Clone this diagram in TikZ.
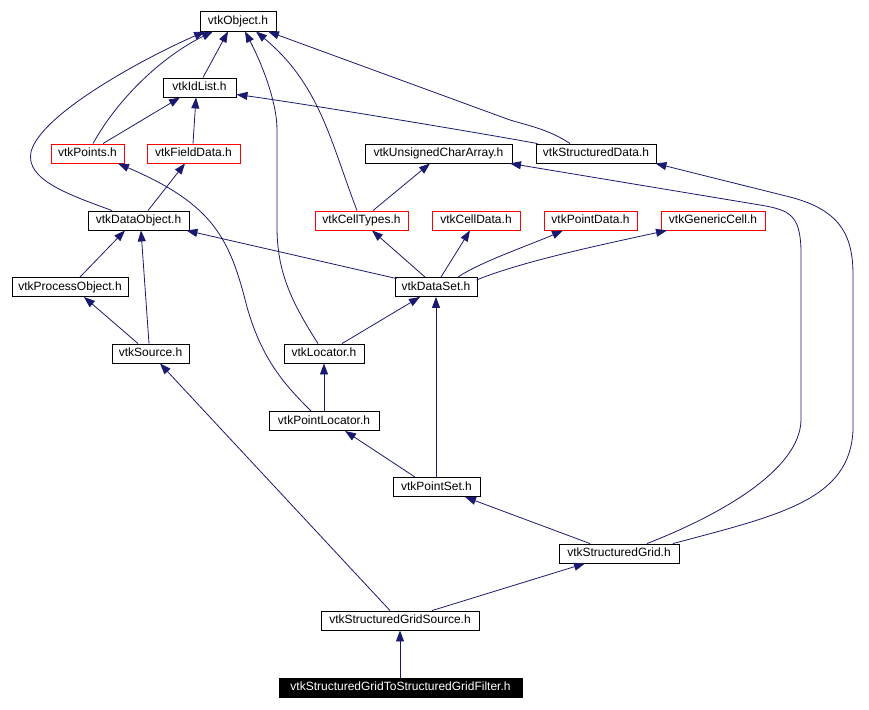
\documentclass[tikz,border=0pt]{standalone}
\usepackage{fontspec}
\setmainfont{Liberation Sans}
\usetikzlibrary{arrows.meta}
\definecolor{edgecol}{RGB}{25,25,112}
\definecolor{redcol}{RGB}{255,0,0}
\begin{document}
\begin{tikzpicture}[x=1pt,y=-1pt,
  box/.style={draw=black,line width=0.9pt,rectangle,inner sep=0pt,minimum height=19pt,text height=8.6pt,text depth=2.4pt,font=\fontsize{12}{13}\selectfont,text=black},
  redbox/.style={box,draw=redcol},
  blackbox/.style={box,fill=black,text=white},
  edge/.style={draw=edgecol,line width=0.8pt,-{Triangle[length=11pt,width=8pt]}}]
\useasboundingbox (0,0) rectangle (869,709);
% nodes
\node[box,minimum width=76pt,minimum height=20pt] (obj) at (238,21) {vtkObject.h};
\node[box,minimum width=73pt] (idl) at (199.5,87.5) {vtkIdList.h};
\node[redbox,minimum width=73pt] (pts) at (87.5,153.5) {vtkPoints.h};
\node[redbox,minimum width=93pt] (fld) at (193.5,153.5) {vtkFieldData.h};
\node[box,minimum width=147pt] (uca) at (438.5,153.5) {vtkUnsignedCharArray.h};
\node[box,minimum width=120pt] (sd) at (596,153.5) {vtkStructuredData.h};
\node[box,minimum width=101pt] (dobj) at (138.5,220.5) {vtkDataObject.h};
\node[redbox,minimum width=93pt] (ct) at (361.5,220.5) {vtkCellTypes.h};
\node[redbox,minimum width=88pt] (cd) at (476,220.5) {vtkCellData.h};
\node[redbox,minimum width=93pt] (pd) at (590.5,220.5) {vtkPointData.h};
\node[redbox,minimum width=104pt] (gc) at (713,220.5) {vtkGenericCell.h};
\node[box,minimum width=116pt] (po) at (70,287) {vtkProcessObject.h};
\node[box,minimum width=82pt] (ds) at (436,287) {vtkDataSet.h};
\node[box,minimum width=77pt] (src) at (150.5,353.5) {vtkSource.h};
\node[box,minimum width=80pt] (loc) at (324,353.5) {vtkLocator.h};
\node[box,minimum width=110pt] (pl) at (324,421) {vtkPointLocator.h};
\node[box,minimum width=87pt] (ps) at (436.5,487) {vtkPointSet.h};
\node[box,minimum width=120pt] (sg) at (619,553.5) {vtkStructuredGrid.h};
\node[box,minimum width=158pt] (sgs) at (400,620.5) {vtkStructuredGridSource.h};
\node[blackbox,minimum width=243pt] (flt) at (400.5,687.5) {vtkStructuredGridToStructuredGridFilter.h};
% edges
\draw[edge] ([xshift=3.5pt]idl.north) -- ([xshift=-10pt]obj.south);
\draw[edge] ([xshift=5.5pt]pts.north) .. controls (120,95) and (165,55) .. ([xshift=-25pt]obj.south);
\draw[edge] ([xshift=15.5pt]pts.north) -- ([xshift=-19.5pt]idl.south);
\draw[edge] ([xshift=-0.5pt]fld.north) -- ([xshift=-3.5pt]idl.south);
\draw[edge] ([xshift=-26.5pt]dobj.north) .. controls (70,195) and (25,180) .. (31,152) .. controls (40,115) and (140,60) .. ([xshift=-33pt]obj.south);
\draw[edge] ([xshift=9.5pt]dobj.north) -- ([xshift=-8.5pt]fld.south);
\draw[edge] ([xshift=-26pt]sd.north) .. controls (550,130) and (530,126) .. (510,120) -- ([xshift=30pt]obj.south);
\draw[edge] ([xshift=2pt]sd.north west) .. controls (480,133) and (300,103) .. ([yshift=-7pt]idl.east);
\draw[edge] ([xshift=-4.5pt]ct.north) .. controls (330,140) and (320,85) .. ([xshift=18pt]obj.south);
\draw[edge] ([xshift=11.5pt]ct.north) -- ([xshift=-8.5pt]uca.south);
\draw[edge] ([xshift=-6pt]loc.north) .. controls (290,300) and (277,270) .. (277,227) -- (277,130) .. controls (277,100) and (260,60) .. ([xshift=7pt]obj.south);
\draw[edge] ([xshift=-13pt]pl.north) .. controls (285,385) and (262,360) .. (247,307) .. controls (230,240) and (215,205) .. ([xshift=30.5pt]pts.south);
\draw[edge] ([xshift=10pt]po.north) -- ([xshift=-13.5pt]dobj.south);
\draw[edge] ([xshift=-12.5pt]src.north) -- ([xshift=14pt]po.south);
\draw[edge] ([xshift=-1.5pt]src.north) -- ([xshift=2.5pt]dobj.south);
\draw[edge] ([xshift=2pt,yshift=-1.5pt]ds.north west) -- ([xshift=-3pt]dobj.south east);
\draw[edge] ([xshift=-11pt]ds.north) -- ([xshift=10.5pt]ct.south);
\draw[edge] ([xshift=5pt]ds.north) -- ([xshift=-6pt]cd.south);
\draw[edge] ([xshift=22pt]ds.north) .. controls (480,262) and (530,245) .. ([xshift=-27.5pt]pd.south);
\draw[edge] ([xshift=-1pt,yshift=-3pt]ds.north east) .. controls (520,262) and (600,245) .. ([xshift=-46pt]gc.south);
\draw[edge] ([xshift=18pt]loc.north) -- ([xshift=-16pt]ds.south);
\draw[edge] (pl.north) -- (loc.south);
\draw[edge] ([xshift=-0.5pt]ps.north) -- (ds.south);
\draw[edge] ([xshift=-21.5pt]ps.north) -- ([xshift=21pt]pl.south);
\draw[edge] ([xshift=-29pt]sg.north) -- ([xshift=28.5pt]ps.south);
\draw[edge] ([xshift=28pt]sg.north) .. controls (720,515) and (800,470) .. (801,420) -- (801,250) .. controls (800,215) and (790,210) .. (760,205) -- ([xshift=71.5pt]uca.south);
\draw[edge] ([xshift=54pt]sg.north) .. controls (780,515) and (850,500) .. (853,430) -- (853,275) .. controls (853,235) and (840,210) .. (790,197) -- ([xshift=-1pt]sd.south east);
\draw[edge] ([xshift=32pt]sgs.north) -- ([xshift=-34pt]sg.south);
\draw[edge] ([xshift=-10pt]sgs.north) -- ([xshift=9.5pt]src.south);
\draw[edge] ([xshift=-0.5pt]flt.north) -- (sgs.south);
\end{tikzpicture}
\end{document}
